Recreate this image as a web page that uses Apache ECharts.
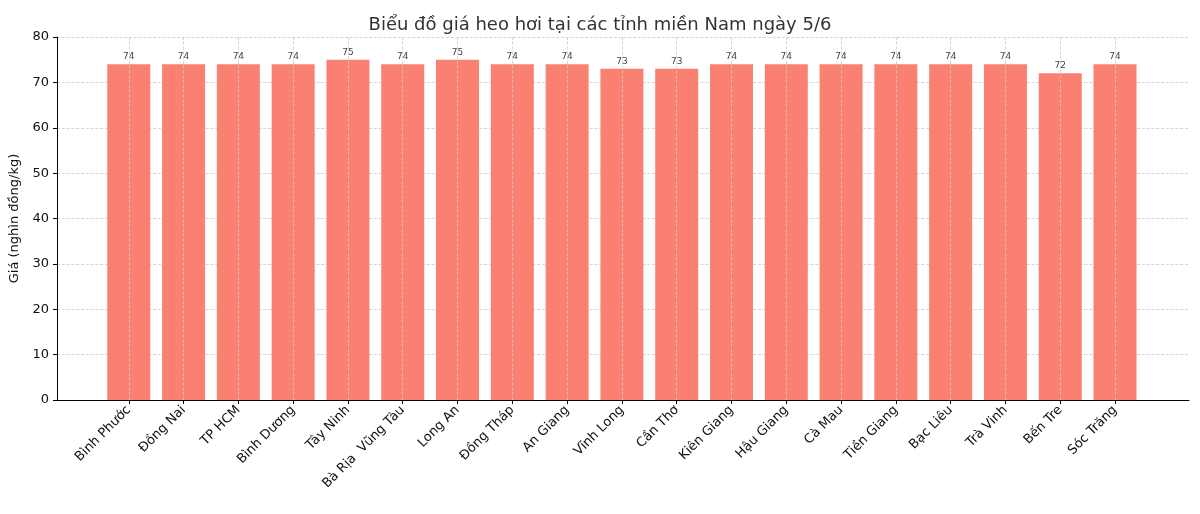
<!DOCTYPE html>
<html><head><meta charset="utf-8">
<script src="https://cdn.jsdelivr.net/npm/echarts@6/dist/echarts.min.js"></script>
<style>html,body{margin:0;padding:0;background:#fff}#c{width:1200px;height:514px}</style>
</head><body><div id="c"></div>
<script>
const categories = ["Bình Phước","Đồng Nai","TP HCM","Bình Dương","Tây Ninh","Bà Rịa  Vũng Tàu","Long An","Đồng Tháp","An Giang","Vĩnh Long","Cần Thơ","Kiên Giang","Hậu Giang","Cà Mau","Tiền Giang","Bạc Liêu","Trà Vinh","Bến Tre","Sóc Trăng"];
const prices = [74,74,74,74,75,74,75,74,74,73,73,74,74,74,74,74,74,72,74];
const yTicks = [0,10,20,30,40,50,60,70,80];
const idx = categories.map((_, i) => i);
const font = 'DejaVu Sans';
const chart = echarts.init(document.getElementById('c'));
chart.setOption({
  animation: false,
  title: {text: 'Biểu đồ giá heo hơi tại các tỉnh miền Nam ngày 5/6', left: 'center', top: 11,
    textStyle: {fontFamily: font, fontSize: 18, fontWeight: 'normal', color: '#333'}},
  grid: {left: 57, right: 11, top: 37, bottom: 114},
  xAxis: {type: 'value', min: -1.31, max: 19.35,
    axisLine: {show: true, onZero: false, lineStyle: {color: '#000'}},
    axisTick: {show: true, customValues: idx, length: 4, lineStyle: {color: '#000'}},
    axisLabel: {customValues: idx, rotate: 45, fontFamily: font, fontSize: 13, color: '#111', margin: 8,
      formatter: v => categories[Math.round(v)]},
    splitLine: {show: false}},
  yAxis: {type: 'value', min: 0, max: 80, interval: 10,
    name: 'Giá (nghìn đồng/kg)', nameLocation: 'middle', nameGap: 36,
    nameTextStyle: {fontFamily: font, fontSize: 13, color: '#111'},
    axisLine: {show: true, onZero: false, lineStyle: {color: '#000'}},
    axisTick: {show: true, length: 4, lineStyle: {color: '#000'}},
    axisLabel: {fontFamily: font, fontSize: 13, color: '#111', formatter: v => yTicks.includes(v) ? String(v) : ''},
    splitLine: {show: true, lineStyle: {color: '#ccc', type: 'dashed', width: 0.8}}},
  series: [{
    type: 'bar', barWidth: 43,
    data: prices.map((v, i) => [i, v]),
    itemStyle: {color: '#fa8072'},
    label: {show: true, position: 'top', distance: 3, fontFamily: font, fontSize: 9, color: '#444',
      formatter: p => String(p.value[1])},
    markLine: {silent: true, symbol: 'none', label: {show: false},
      lineStyle: {color: '#ccc', type: 'dashed', width: 0.8},
      data: idx.map(i => ({xAxis: i}))},
    z: 1
  }]
});
</script></body></html>
